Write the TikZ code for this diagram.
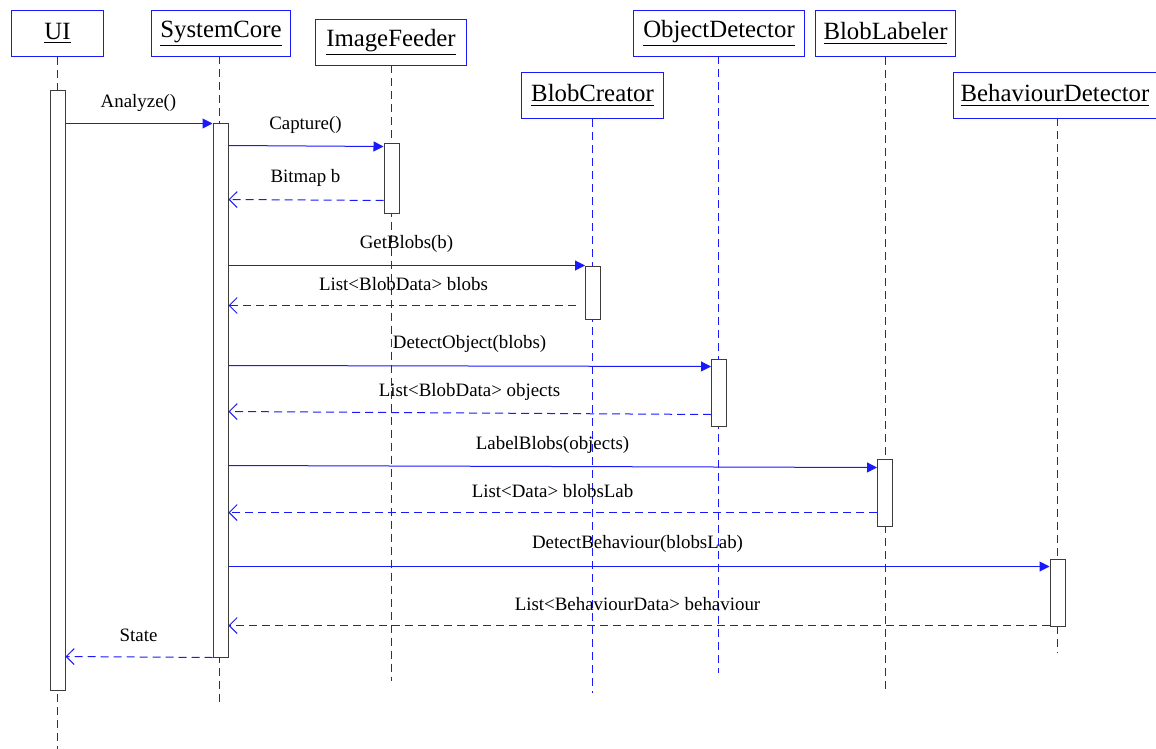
\documentclass[tikz,border=0pt]{standalone}
\usepackage{fontspec}
\setmainfont{Liberation Serif}
\usetikzlibrary{arrows.meta}
\definecolor{uml}{RGB}{25,25,250}
\definecolor{actline}{RGB}{60,60,60}
\tikzset{
  obj/.style={draw=uml, line width=0.5pt, fill=white, inner sep=0pt, minimum height=23pt, font=\fontsize{12.4pt}{14pt}\selectfont},
  life/.style={draw=uml, line width=0.5pt, dash pattern=on 4pt off 2.5pt},
  act/.style={draw=actline, line width=0.5pt, fill=white, inner sep=0pt, minimum width=7.5pt},
  call/.style={draw=uml, line width=0.5pt, -{Triangle[length=5pt,width=5pt]}},
  ret/.style={draw=uml, line width=0.5pt, dash pattern=on 4pt off 2.5pt, -{Straight Barb[length=4pt,width=8pt,line width=0.5pt]}},
  msg/.style={font=\fontsize{9.45pt}{11pt}\selectfont, inner sep=0pt}
}
\newcommand{\objname}[1]{\underline{#1}}
\begin{document}
\begin{tikzpicture}[x=0.5pt, y=-0.5pt]
% frame offset by half a unit so one-unit strokes sit on whole cells
\useasboundingbox (-0.5,-0.5) rectangle (1155.5,748.5);

% participants
\node[obj, minimum width=46pt]   (ui)  at (57,33)   {\objname{UI}};
\node[obj, minimum width=69.5pt] (sys) at (220.5,33) {\objname{SystemCore}};
\node[obj, minimum width=75.5pt] (img) at (390.5,42) {\objname{ImageFeeder}};
\node[obj, minimum width=71pt]   (blc) at (592,95)   {\objname{BlobCreator}};
\node[obj, minimum width=85.5pt] (obd) at (718.5,33) {\objname{ObjectDetector}};
\node[obj, minimum width=70pt]   (bll) at (885,33)   {\objname{BlobLabeler}};
\node[obj, minimum width=101.5pt](bhd) at (1054.5,95) {\objname{BehaviourDetector}};

% lifelines
\draw[life] (ui.south)  -- (ui.south |- 0,749);
\draw[life] (219,56)    -- (219,705);
\draw[life] (391,65)    -- (391,680);
\draw[life] (blc.south) -- (blc.south |- 0,692);
\draw[life] (718,56)    -- (718,672);
\draw[life] (bll.south) -- (bll.south |- 0,692);
\draw[life] (1057,118)  -- (1057,652);

% activations
\node[act, minimum height=299.5pt, anchor=north] (uiA)  at (57,90)    {};
\node[act, minimum height=266.5pt, anchor=north] (sysA) at (220,123)  {};
\node[act, minimum height=34.5pt,  anchor=north] (imgA) at (391,143)  {};
\node[act, minimum height=26.5pt,  anchor=north] (blcA) at (592.5,265) {};
\node[act, minimum height=33.5pt,  anchor=north] (obdA) at (718.5,358) {};
\node[act, minimum height=33.5pt,  anchor=north] (bllA) at (884.5,458) {};
\node[act, minimum height=33.5pt,  anchor=north] (bhdA) at (1057,558) {};

% messages
\draw[call] (uiA.east |- 0,123)  -- (sysA.west |- 0,123);
\node[msg] (m1) at (138,102) {Analyze()};
\draw[call] (sysA.east |- 0,145) -- (imgA.west |- 0,146);
\node[msg] (m2) at (305,124) {Capture()};
\draw[ret]  (imgA.west |- 0,200) -- (sysA.east |- 0,199);
\node[msg] (m3) at (305,177) {Bitmap b};
\draw[call] (sysA.east |- 0,265) -- (blcA.west |- 0,265);
\node[msg] (m4) at (406,243) {GetBlobs(b)};
\draw[ret]  (575,305) -- (sysA.east |- 0,305);
\node[msg] (m5) at (403,284) {List<BlobData> blobs};
\draw[call] (sysA.east |- 0,365) -- (obdA.west |- 0,366);
\node[msg] (m6) at (469,343) {DetectObject(blobs)};
\draw[ret]  (obdA.west |- 0,414) -- (sysA.east |- 0,411);
\node[msg] (m7) at (469,391) {List<BlobData> objects};
\draw[call] (sysA.east |- 0,465) -- (bllA.west |- 0,467);
\node[msg] (m8) at (552,444) {LabelBlobs(objects)};
\draw[ret]  (bllA.west |- 0,512) -- (sysA.east |- 0,512);
\node[msg] (m9) at (552,491) {List<Data> blobsLab};
\draw[call] (sysA.east |- 0,566) -- (bhdA.west |- 0,566);
\node[msg] (m10) at (637,543) {DetectBehaviour(blobsLab)};
\draw[ret]  (bhdA.west |- 0,625) -- (sysA.east |- 0,625);
\node[msg] (m11) at (637,604) {List<BehaviourData> behaviour};
\draw[ret]  (sysA.south west) -- (uiA.east |- 0,656);
\node[msg] (m12) at (138,635) {State};
\end{tikzpicture}
\end{document}
